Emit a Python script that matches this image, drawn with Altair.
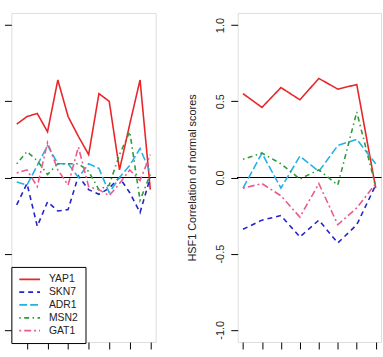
import altair as alt
import pandas as pd

# Series, styles and tick positions
series = ["YAP1", "SKN7", "ADR1", "MSN2", "GAT1"]
colors = ["#E8262A", "#2323C8", "#27B0E6", "#2E9A3A", "#EC5A8C"]
dashes = [[1, 0], [5, 4], [8, 3], [1.5, 3.5, 5, 3.5], [2, 3, 7, 3]]
y_ticks = [-1.0, -0.5, 0.0, 0.5, 1.0]

# Left panel: 14 conditions
left_x = list(range(1, 15))
left_ticks = [2, 4, 6, 8, 10, 12, 14]
left_yap1 = [0.35, 0.40, 0.42, 0.30, 0.64, 0.40, 0.27, 0.15, 0.55, 0.50, 0.05, 0.35, 0.64, -0.08]
left_skn7 = [-0.18, -0.04, -0.32, -0.16, -0.22, -0.21, 0.01, -0.08, -0.11, -0.07, 0.00, -0.10, -0.23, 0.00]
left_adr1 = [-0.03, -0.05, 0.08, 0.21, 0.09, 0.09, 0.00, 0.09, 0.06, -0.10, 0.00, 0.08, 0.19, 0.03]
left_msn2 = [0.09, 0.17, 0.11, 0.02, 0.09, 0.09, 0.09, 0.04, -0.08, -0.05, 0.15, 0.30, -0.15, 0.02]
left_gat1 = [0.03, 0.05, -0.06, 0.23, 0.05, -0.05, 0.20, -0.06, -0.08, -0.12, -0.04, 0.05, -0.02, 0.15]

# Right panel: 8 conditions
right_x = list(range(1, 9))
right_ticks = [1, 2, 3, 4, 5, 6, 7, 8]
right_yap1 = [0.55, 0.46, 0.59, 0.51, 0.65, 0.58, 0.61, -0.07]
right_skn7 = [-0.34, -0.28, -0.25, -0.39, -0.28, -0.43, -0.31, -0.05]
right_adr1 = [-0.07, 0.16, -0.07, 0.14, 0.04, 0.21, 0.25, 0.09]
right_msn2 = [0.12, 0.16, 0.09, -0.01, 0.05, -0.05, 0.43, -0.06]
right_gat1 = [-0.07, -0.04, -0.12, -0.26, -0.04, -0.31, -0.20, -0.04]


def long_table(xs, columns):
    rows = []
    for name, vals in zip(series, columns):
        for x, v in zip(xs, vals):
            rows.append({"series": name, "x": x, "value": v})
    return pd.DataFrame(rows)


left_df = long_table(left_x, [left_yap1, left_skn7, left_adr1, left_msn2, left_gat1])
right_df = long_table(right_x, [right_yap1, right_skn7, right_adr1, right_msn2, right_gat1])

FONT = "Liberation Sans"
y_scale = alt.Scale(domain=[-1.08, 1.08], nice=False, zero=False)

legend = alt.Legend(
    title=None, orient="none", legendX=0, legendY=257,
    symbolType="stroke", symbolSize=441, symbolStrokeWidth=1.8,
    clipHeight=11, rowPadding=2, padding=7,
    labelFontSize=10.5, labelFont=FONT, labelColor="#222222", labelOffset=8,
    strokeColor="black", fillColor="white", cornerRadius=0,
)


def panel(df, xs, ticks, width, y_axis, show_legend):
    n = len(xs)
    pad = (n - 1) * 0.04
    x_scale = alt.Scale(domain=[xs[0] - pad, xs[-1] + pad], nice=False, zero=False)
    x_axis = alt.Axis(values=ticks, labels=False, title=None, tickSize=7,
                      domain=False, grid=False, tickColor="black")
    leg = legend if show_legend else None
    lines = alt.Chart(df).mark_line(strokeWidth=1.6).encode(
        x=alt.X("x:Q", scale=x_scale, axis=x_axis),
        y=alt.Y("value:Q", scale=y_scale, axis=y_axis),
        color=alt.Color("series:N", scale=alt.Scale(domain=series, range=colors), legend=leg),
        strokeDash=alt.StrokeDash("series:N", scale=alt.Scale(domain=series, range=dashes), legend=leg),
    )
    zero = alt.Chart(df).mark_rule(color="black", strokeWidth=1.2).encode(y=alt.datum(0))
    return alt.layer(zero, lines).properties(width=width, height=333)


left_axis = alt.Axis(values=y_ticks, labels=False, title=None, tickSize=7,
                     domain=False, grid=False, tickColor="black")
right_axis = alt.Axis(
    values=y_ticks, title="HSF1 Correlation of normal scores", tickSize=7,
    domain=False, grid=False, tickColor="black",
    labelAngle=270, labelAlign="center", labelBaseline="middle", labelPadding=10,
    labelExpr="replace(format(datum.value, '.1f'), '\u2212', '-')",
    labelFont=FONT, labelFontSize=11, labelColor="#222222",
    titleFont=FONT, titleFontSize=11, titleFontWeight="normal", titleColor="#222222",
    titleAngle=270, titleBaseline="alphabetic", titleX=-43,
)

left = panel(left_df, left_x, left_ticks, 146, left_axis, True)
right = panel(right_df, right_x, right_ticks, 145, right_axis, False)

chart = (
    alt.hconcat(left, right, spacing=28)
    .resolve_scale(x="independent", color="independent", strokeDash="independent")
    .resolve_legend(color="independent", strokeDash="independent")
    .properties(padding={"left": 3.5, "top": 10, "right": 0, "bottom": 0})
    .configure_view(stroke="black", strokeWidth=1)
    .configure(font=FONT)
)

chart.save("out.html", embed_options={"renderer": "svg", "actions": False})
